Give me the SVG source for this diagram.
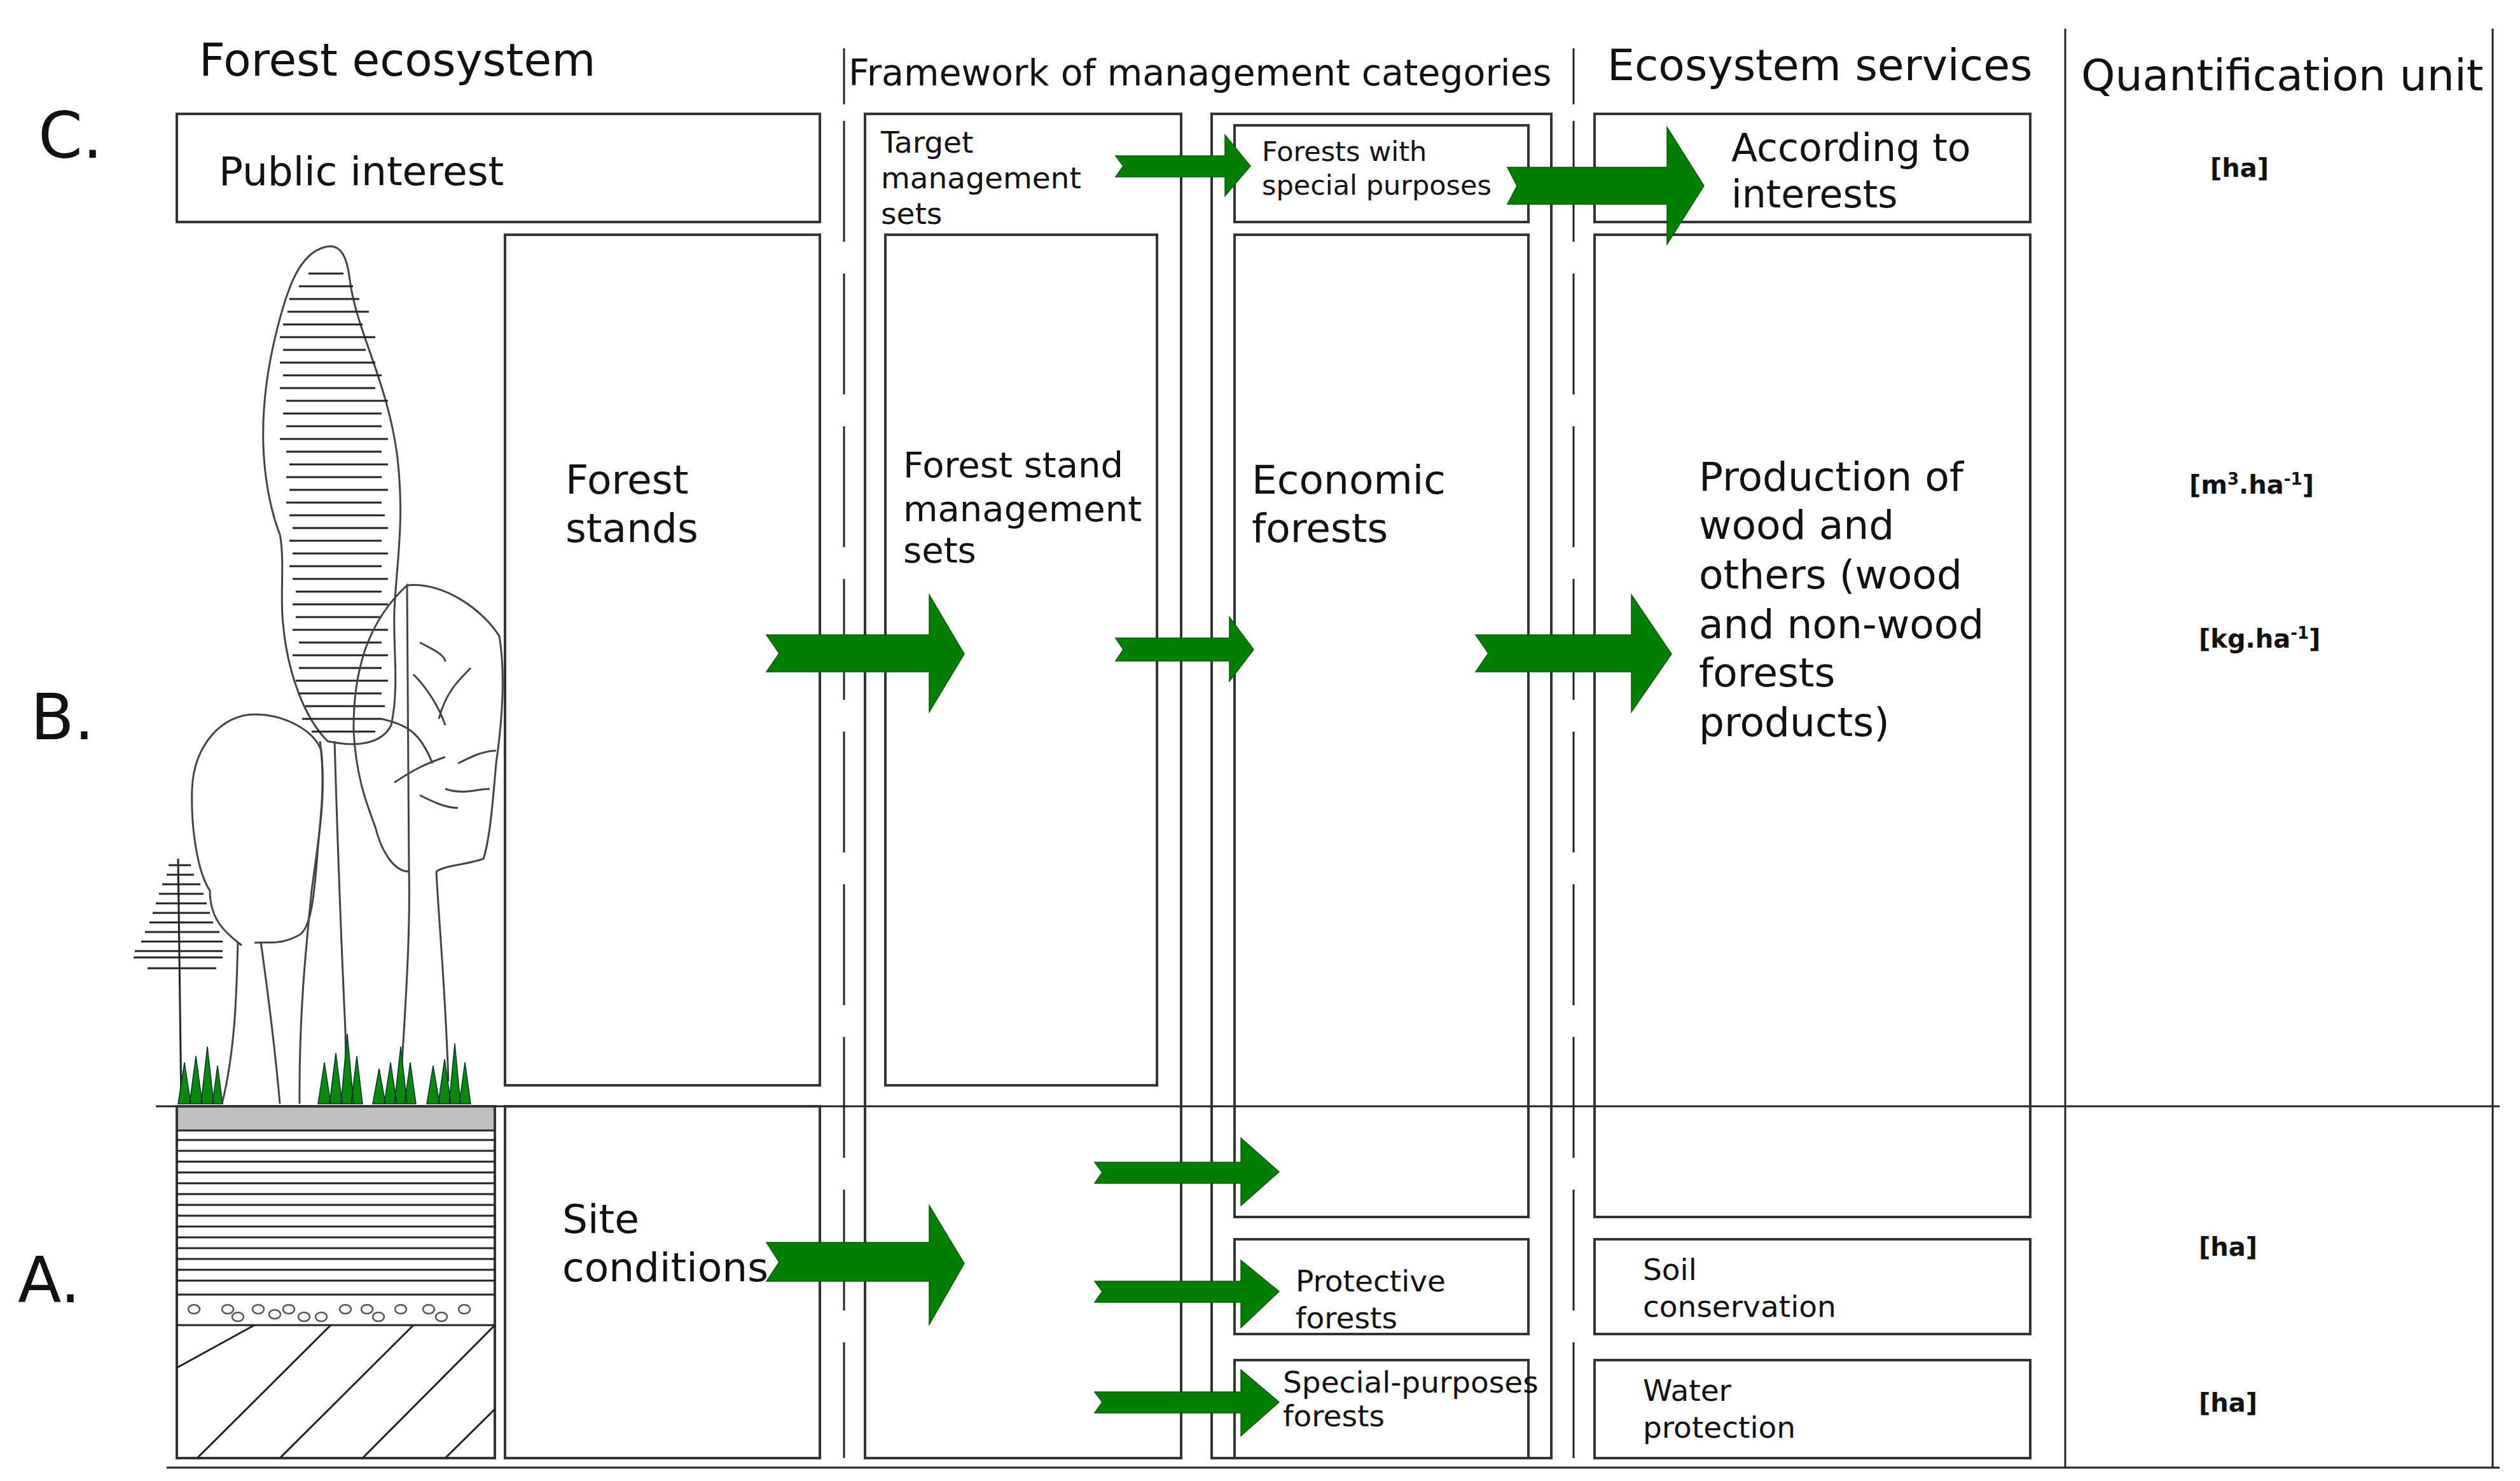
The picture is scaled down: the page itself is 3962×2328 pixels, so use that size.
<svg xmlns="http://www.w3.org/2000/svg" width="3962" height="2328" viewBox="0 0 3962 2328">
<style>
text{font-family:"DejaVu Sans","Liberation Sans",sans-serif;fill:#111}
.box{fill:none;stroke:#333;stroke-width:4}
.ln{stroke:#222;stroke-width:3;fill:none}
.dash{stroke:#222;stroke-width:3;stroke-dasharray:190 50;fill:none}
.arr{fill:#008000;stroke:#0a5a0a;stroke-width:1.5}
.tree{fill:none;stroke:#444;stroke-width:3}
.hat{stroke:#222;stroke-width:3}
.grass{fill:#0a8a0a;stroke:#033;stroke-width:1.5}
.h{font-size:68px}
.t{font-size:63px}
.s{font-size:47px}
.u{font-size:40px;font-weight:bold}
.lab{font-size:100px}
</style>
<rect width="3962" height="2328" fill="#fff"/>
<g id="headers">
<text x="313" y="119" font-size="71">Forest ecosystem</text>
<text x="1334" y="134" font-size="57">Framework of management categories</text>
<text class="h" x="2527" y="126">Ecosystem services</text>
<text class="h" x="3272" y="142">Quantification unit</text>
<text class="lab" x="60" y="248">C.</text>
<text class="lab" x="48" y="1162">B.</text>
<text class="lab" x="28" y="2047">A.</text>
</g>
<g id="frame">
<line class="ln" x1="245" y1="1739" x2="3930" y2="1739"/>
<line class="ln" x1="262" y1="2307" x2="3930" y2="2307"/>
<line class="ln" x1="3247" y1="45" x2="3247" y2="2307"/>
<line class="ln" x1="3919" y1="45" x2="3919" y2="2307"/>
<line class="ln" x1="1327" y1="76" x2="1327" y2="164"/>
<line class="ln" x1="2474" y1="76" x2="2474" y2="164"/>
<line class="dash" x1="1327" y1="190" x2="1327" y2="2292"/>
<line class="dash" x1="2474" y1="190" x2="2474" y2="2292"/>
</g>
<g id="public-interest"><rect class="box" x="278" y="179" width="1011" height="170"/><text class="t" x="344" y="291" font-size="65">Public interest</text></g>
<g id="forest-stands"><rect class="box" x="794" y="369" width="495" height="1337"/><text class="t" x="889" y="776">Forest</text><text class="t" x="889" y="852">stands</text></g>
<g id="site-conditions"><rect class="box" x="794" y="1739" width="495" height="553"/><text class="t" x="884" y="1938">Site</text><text class="t" x="884" y="2014">conditions</text></g>
<g id="target-management-sets"><rect class="box" x="1360" y="179" width="497" height="2113"/><text class="s" x="1385" y="240">Target</text><text class="s" x="1385" y="296">management</text><text class="s" x="1385" y="352">sets</text></g>
<g id="forest-stand-management-sets"><rect class="box" x="1392" y="369" width="427" height="1337"/><text font-size="56" x="1420" y="750">Forest stand</text><text font-size="56" x="1420" y="819">management</text><text font-size="56" x="1420" y="884">sets</text></g>
<g id="categories"><rect class="box" x="1905" y="179" width="534" height="2113"/></g>
<g id="forests-special"><rect class="box" x="1941" y="197" width="462" height="152"/><text font-size="43" x="1984" y="253">Forests with</text><text font-size="43" x="1984" y="306">special purposes</text></g>
<g id="economic-forests"><rect class="box" x="1941" y="369" width="462" height="1544"/><text class="t" x="1968" y="776">Economic</text><text class="t" x="1968" y="852">forests</text></g>
<g id="protective-forests"><rect class="box" x="1941" y="1948" width="462" height="149"/><text class="s" x="2037" y="2030">Protective</text><text class="s" x="2037" y="2088">forests</text></g>
<g id="special-purposes-forests"><rect class="box" x="1941" y="2138" width="462" height="154"/><text class="s" x="2017" y="2189">Special-purposes</text><text class="s" x="2017" y="2242">forests</text></g>
<g id="according-to-interests"><rect class="box" x="2507" y="179" width="685" height="170"/><text font-size="60" x="2722" y="253">According to</text><text font-size="60" x="2722" y="326">interests</text></g>
<g id="production"><rect class="box" x="2507" y="369" width="685" height="1544"/>
<text class="t" x="2671" y="771">Production of</text><text class="t" x="2671" y="847">wood and</text><text class="t" x="2671" y="925">others (wood</text><text class="t" x="2671" y="1003">and non-wood</text><text class="t" x="2671" y="1079">forests</text><text class="t" x="2671" y="1157">products)</text></g>
<g id="soil-conservation"><rect class="box" x="2507" y="1948" width="685" height="149"/><text class="s" x="2583" y="2012">Soil</text><text class="s" x="2583" y="2070">conservation</text></g>
<g id="water-protection"><rect class="box" x="2507" y="2138" width="685" height="154"/><text class="s" x="2583" y="2202">Water</text><text class="s" x="2583" y="2260">protection</text></g>
<g id="units">
<text class="u" x="3475" y="278">[ha]</text>
<text class="u" x="3442" y="776">[m<tspan font-size="26" dy="-14">3</tspan><tspan dy="14">.ha</tspan><tspan font-size="26" dy="-14">-1</tspan><tspan dy="14">]</tspan></text>
<text class="u" x="3457" y="1018">[kg.ha<tspan font-size="26" dy="-14">-1</tspan><tspan dy="14">]</tspan></text>
<text class="u" x="3457" y="1974">[ha]</text>
<text class="u" x="3457" y="2219">[ha]</text>
</g>
<g id="connectors">
<polygon class="arr" points="1205,998 1461,998 1461,935 1516,1028 1461,1119 1461,1056 1205,1056 1225,1027"/>
<polygon class="arr" points="1754,1003 1933,1003 1933,970 1971,1021 1933,1071 1933,1039 1754,1039 1766,1021"/>
<polygon class="arr" points="2320,998 2565,998 2565,935 2628,1028 2565,1119 2565,1056 2320,1056 2340,1027"/>
<polygon class="arr" points="1754,245 1926,245 1926,212 1966,261 1926,308 1926,278 1754,278 1766,261"/>
<polygon class="arr" points="2370,263 2621,263 2621,200 2679,292 2621,384 2621,321 2370,321 2385,292"/>
<polygon class="arr" points="1205,1953 1461,1953 1461,1895 1516,1986 1461,2082 1461,2014 1205,2014 1225,1984"/>
<polygon class="arr" points="1721,1827 1951,1827 1951,1789 2011,1842 1951,1895 1951,1860 1721,1860 1733,1843"/>
<polygon class="arr" points="1721,2014 1951,2014 1951,1981 2011,2030 1951,2087 1951,2047 1721,2047 1733,2030"/>
<polygon class="arr" points="1721,2188 1951,2188 1951,2153 2011,2204 1951,2257 1951,2221 1721,2221 1733,2204"/>
</g>
<g id="forest-illustration">
<path class="tree" d="M520,387 C470,390 450,460 435,520 C420,580 412,640 414,700 C416,760 428,810 440,840 C448,880 440,940 445,980 C452,1060 480,1130 515,1165 C560,1175 600,1170 615,1140 C628,1080 618,1020 620,960 C624,880 636,820 625,720 C610,600 560,520 550,440 C545,400 535,388 520,387 Z"/>
<g class="hat">
<path d="M485,430H540M470,450H555M455,470H565M452,490H580M445,510H570M440,530H590M445,550H575M440,570H590M445,590H600M440,610H590M450,630H610M445,650H600M450,670H600M440,690H610M450,710H600M455,730H610M450,750H600M455,770H610M450,790H600M455,810H605M460,830H610M455,850H600M460,870H610M455,890H600M460,910H610M465,930H600M460,950H610M465,970H600M460,990H610M470,1010H600M460,1030H610M470,1050H600M465,1070H610M470,1090H600M480,1110H605M475,1130H600M490,1150H590"/>
</g>
<path class="tree" d="M503,1165 C515,1250 500,1320 490,1400 C480,1500 470,1600 471,1735 M526,1165 C530,1300 535,1450 543,1620 L545,1735"/>
<path class="tree" d="M380,1486 C360,1470 330,1450 330,1400 C310,1370 300,1300 302,1240 C305,1170 350,1123 400,1123 C450,1123 495,1150 505,1180 C510,1230 505,1280 500,1330 C495,1400 490,1460 470,1470 C440,1486 425,1480 400,1482"/>
<path class="tree" d="M374,1480 C372,1560 370,1650 349,1735 M410,1480 C418,1540 430,1620 440,1735"/>
<path class="tree" d="M640,920 C700,915 760,960 785,1000 C795,1060 790,1130 780,1200 C775,1260 770,1320 760,1350 C730,1360 700,1360 686,1370 M643,1370 C620,1370 600,1340 590,1300 C575,1260 560,1220 556,1150 C555,1060 575,980 640,920 Z"/>
<path class="tree" d="M660,1010 C680,1020 700,1030 700,1040 M650,1060 C670,1080 690,1110 700,1140 M740,1050 C720,1070 700,1090 690,1130 M600,1130 C640,1140 660,1150 680,1200 M720,1200 C740,1190 760,1180 780,1180 M620,1230 C650,1210 670,1200 700,1190 M700,1240 C730,1250 750,1240 770,1240 M660,1250 C680,1260 700,1270 720,1270"/>
<path class="tree" d="M643,1370 C645,1450 640,1550 630,1700 M686,1370 C690,1450 700,1550 705,1700"/>
<line class="hat" x1="280" y1="1350" x2="285" y2="1735"/>
<path class="hat" d="M265,1360H300M262,1375H305M255,1390H315M250,1405H320M245,1420H325M240,1435H330M235,1450H335M228,1465H345M222,1480H350M212,1495H350M210,1505H350M232,1522H340"/>
<g class="grass">
<path d="M280,1735 L290,1670 L300,1735 Z M298,1735 L308,1660 L318,1735 Z M316,1735 L326,1645 L336,1735 Z M334,1735 L342,1675 L350,1735 Z"/>
<path d="M500,1735 L510,1670 L520,1735 Z M518,1735 L528,1655 L538,1735 Z M536,1735 L546,1625 L556,1735 Z M552,1735 L561,1660 L570,1735 Z"/>
<path d="M586,1735 L596,1680 L606,1735 Z M604,1735 L614,1670 L624,1735 Z M620,1735 L630,1645 L640,1735 Z M636,1735 L645,1670 L654,1735 Z"/>
<path d="M671,1735 L681,1675 L691,1735 Z M689,1735 L699,1665 L709,1735 Z M706,1735 L715,1640 L724,1735 Z M722,1735 L731,1670 L740,1735 Z"/>
</g>
</g>
<g id="soil-profile">
<rect x="278" y="1739" width="500" height="553" fill="#fff" stroke="#333" stroke-width="4"/>
<rect x="280" y="1741" width="496" height="36" fill="#c0c0c0"/>
<path class="hat" d="M278,1777H778M278,1792H778M278,1809H778M278,1826H778M278,1843H778M278,1860H778M278,1877H778M278,1894H778M278,1911H778M278,1928H778M278,1945H778M278,1962H778M278,1979H778M278,1996H778M278,2013H778M278,2035H778M278,2083H778"/>
<g fill="none" stroke="#555" stroke-width="2.5">
<ellipse cx="305" cy="2058" rx="9" ry="7"/><ellipse cx="358" cy="2058" rx="9" ry="7"/><ellipse cx="374" cy="2070" rx="9" ry="7"/><ellipse cx="406" cy="2058" rx="9" ry="7"/><ellipse cx="432" cy="2066" rx="9" ry="7"/><ellipse cx="454" cy="2058" rx="9" ry="7"/><ellipse cx="478" cy="2070" rx="9" ry="7"/><ellipse cx="505" cy="2070" rx="9" ry="7"/><ellipse cx="543" cy="2058" rx="9" ry="7"/><ellipse cx="577" cy="2058" rx="9" ry="7"/><ellipse cx="595" cy="2070" rx="9" ry="7"/><ellipse cx="630" cy="2058" rx="9" ry="7"/><ellipse cx="674" cy="2058" rx="9" ry="7"/><ellipse cx="694" cy="2070" rx="9" ry="7"/><ellipse cx="730" cy="2058" rx="9" ry="7"/>
</g>
<path class="hat" d="M278,2150 L400,2083 M310,2292 L520,2083 M440,2292 L650,2083 M570,2292 L778,2083 M700,2292 L778,2215"/>
</g>
</svg>
